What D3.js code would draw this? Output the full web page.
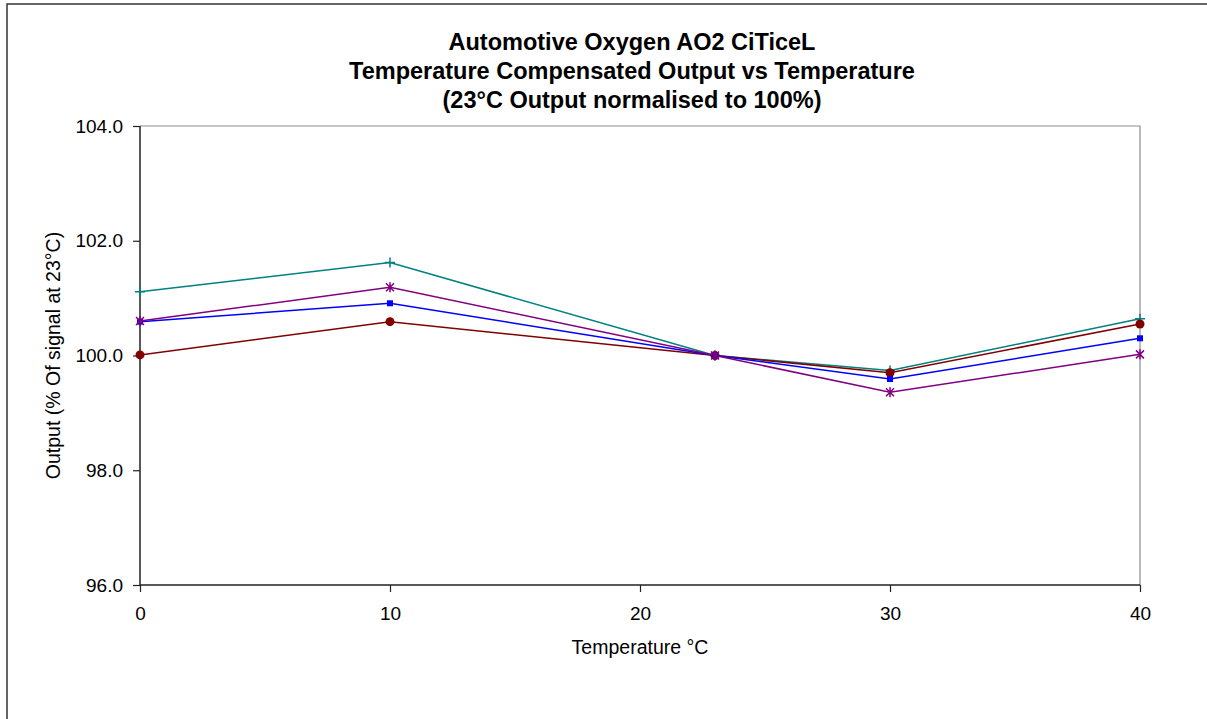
<!DOCTYPE html>
<html>
<head>
<meta charset="utf-8">
<script src="https://cdn.jsdelivr.net/npm/d3@7.9.0/dist/d3.min.js"></script>
<style>
  body { margin: 0; background: #fff; }
  svg { font-family: Arial, "Liberation Sans", sans-serif; }
</style>
</head>
<body>
<svg id="chart" width="1207" height="719"></svg>
<script>
// temperatures (°C) and normalised output (%) for each sensor
const temps = [0, 10, 23, 30, 40];
const tealSeries = [101.11, 101.62, 100.0, 99.74, 100.64];
const redSeries = [100.01, 100.59, 100.0, 99.70, 100.55];
const blueSeries = [100.59, 100.91, 100.0, 99.59, 100.30];
const purpleSeries = [100.60, 101.19, 100.0, 99.36, 100.02];

const xTicks = [0, 10, 20, 30, 40];
const yTicks = [96, 98, 100, 102, 104];
const titleLines = [
  'Automotive Oxygen AO2 CiTiceL',
  'Temperature Compensated Output vs Temperature',
  '(23°C Output normalised to 100%)'
];

const series = [
  { values: tealSeries, color: '#008080', marker: 'plus' },
  { values: redSeries, color: '#800000', marker: 'circle' },
  { values: blueSeries, color: '#0000ff', marker: 'square' },
  { values: purpleSeries, color: '#800080', marker: 'star' }
];

const svg = d3.select('#chart');
const plotLeft = 140, plotRight = 1140, plotTop = 126, plotBottom = 585;

let x = d3.scaleLinear().domain([0, 40]).range([plotLeft, plotRight]);
let y = d3.scaleLinear().domain([96, 104]).range([plotBottom, plotTop]);

// outer chart border (right and bottom fall outside the picture)
svg.append('rect')
  .attr('x', 7).attr('y', 4)
  .attr('width', 1210).attr('height', 730)
  .attr('fill', 'none')
  .attr('stroke', '#333')
  .attr('stroke-width', 1.5);

// title
svg.append('text')
  .attr('text-anchor', 'middle')
  .attr('font-weight', 'bold')
  .attr('font-size', 23.5)
  .selectAll('tspan')
  .data(titleLines)
  .join('tspan')
  .attr('x', 632)
  .attr('y', (d, i) => 50 + i * 29)
  .text(d => d);

// plot area border (top/right grey)
svg.append('path')
  .attr('d', `M${plotLeft},${plotTop}H${plotRight}V${plotBottom}`)
  .attr('fill', 'none')
  .attr('stroke', '#8c8c8c')
  .attr('stroke-width', 1.2);

// axes
let yAxis = d3.axisLeft(y).tickValues(yTicks).tickSize(7).tickPadding(10)
  .tickFormat(d3.format('.1f'));
let xAxis = d3.axisBottom(x).tickValues(xTicks).tickSize(7).tickPadding(15);

let gy = svg.append('g').attr('transform', `translate(${plotLeft},0)`).call(yAxis);
let gx = svg.append('g').attr('transform', `translate(0,${plotBottom})`).call(xAxis);

[gx, gy].forEach(g => {
  g.select('.domain').attr('stroke', '#222').attr('stroke-width', 1.5);
  g.selectAll('.tick line').attr('stroke', '#222').attr('stroke-width', 1.2);
  g.selectAll('.tick text')
    .attr('font-size', 19)
    .attr('font-family', 'Arial, "Liberation Sans", sans-serif')
    .attr('fill', '#000');
});
gx.select('.domain').attr('d', `M${plotLeft},0H${plotRight}`);
gy.select('.domain').attr('d', `M0,${plotTop}V${plotBottom}`);

// axis titles
svg.append('text')
  .attr('x', 640).attr('y', 654)
  .attr('text-anchor', 'middle')
  .attr('font-size', 19.5)
  .text('Temperature °C');

svg.append('text')
  .attr('transform', `translate(60,${(plotTop + plotBottom) / 2}) rotate(-90)`)
  .attr('text-anchor', 'middle')
  .attr('font-size', 19.5)
  .text('Output (% Of signal at 23°C)');

// lines + markers
let line = d3.line().x((d, i) => x(temps[i])).y(d => y(d));

series.forEach(s => {
  svg.append('path')
    .attr('d', line(s.values))
    .attr('fill', 'none')
    .attr('stroke', s.color)
    .attr('stroke-width', 1.5);

  let g = svg.append('g');
  s.values.forEach((v, i) => {
    let cx = x(temps[i]), cy = y(v);
    if (s.marker === 'circle') {
      g.append('circle').attr('cx', cx).attr('cy', cy).attr('r', 4.5).attr('fill', s.color);
    } else if (s.marker === 'square') {
      g.append('rect').attr('x', cx - 3).attr('y', cy - 3).attr('width', 6).attr('height', 6).attr('fill', s.color);
    } else if (s.marker === 'plus') {
      g.append('path').attr('d', `M${cx - 5},${cy}H${cx + 5}M${cx},${cy - 5}V${cy + 5}`)
        .attr('stroke', s.color).attr('stroke-width', 1.5);
    } else {
      g.append('path')
        .attr('d', `M${cx - 4},${cy - 4}L${cx + 4},${cy + 4}M${cx - 4},${cy + 4}L${cx + 4},${cy - 4}M${cx},${cy - 5}V${cy + 5}`)
        .attr('stroke', s.color).attr('stroke-width', 1.5);
    }
  });
});
</script>
</body>
</html>
